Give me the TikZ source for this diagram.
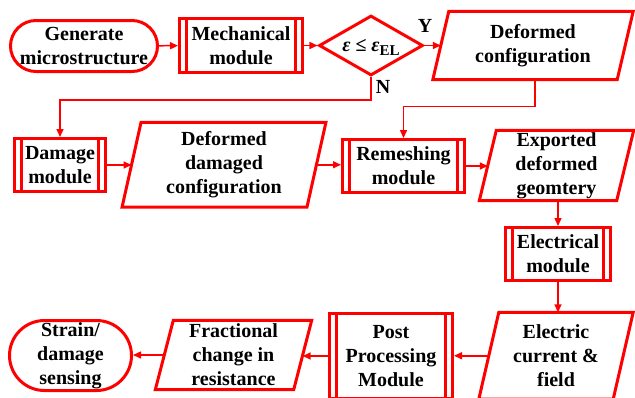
\documentclass[tikz,border=0pt]{standalone}
\usepackage{fontspec}
\setmainfont{Liberation Serif}
\usetikzlibrary{shapes.geometric,shapes.misc,arrows.meta}
\definecolor{flowred}{RGB}{255,0,0}

\begin{document}
\begin{tikzpicture}[x=1pt,y=-1pt,
  every node/.style={font=\fontsize{20}{24}\selectfont\bfseries, align=center, inner sep=0pt},
  shape line/.style={draw=flowred, line width=3pt},
  terminal/.style={shape line, rounded rectangle},
  module/.style={shape line, rectangle,
    path picture={\draw[flowred, line width=2.5pt]
      ([xshift=7pt]path picture bounding box.north west) -- ([xshift=7pt]path picture bounding box.south west)
      ([xshift=-7pt]path picture bounding box.north east) -- ([xshift=-7pt]path picture bounding box.south east);}},
  decision/.style={shape line, diamond},
  data/.style={rectangle},
  link/.style={draw=flowred, line width=1.5pt, -{Triangle[length=8pt,width=7pt]}},
]
\clip (0,0) rectangle (635,397);

% first row
\node[terminal, minimum width=147, minimum height=51] (gen) at (84,46) {Generate\\microstructure};
\node[module, minimum width=123, minimum height=54] (mech) at (241,45.5) {Mechanical\\module};
\node[decision, minimum width=104, minimum height=60] (dec) at (371,45.5) {};
\node at (371,47) {{\itshape ε} ≤ {\itshape ε}\raisebox{-4pt}{\fontsize{15}{15}\selectfont EL}};
\node at (425,26) {Y};
\node at (383,87) {N};
\node[data, minimum width=184, minimum height=68] (defc) at (533,45.5) {Deformed\\configuration};

% second row
\node[module, minimum width=91, minimum height=53] (dmg) at (60,165) {Damage\\module};
\node[data, minimum width=184.5, minimum height=84.5] (ddc) at (224,164.75) {Deformed\\damaged\\configuration};
\node[module, minimum width=122, minimum height=53] (rem) at (403.5,166) {Remeshing\\module};
\node[data, minimum width=137, minimum height=70] (exp) at (556.5,165.5) {Exported\\deformed\\geomtery};

% electrical solver
\node[module, minimum width=105, minimum height=53] (ele) at (558,254) {Electrical\\module};

% last row
\node[data, minimum width=134, minimum height=86.5] (cur) at (556,355.75) {Electric\\current \&\\field};
\node[module, minimum width=123, minimum height=85] (post) at (391,356) {Post\\Processing\\Module};
\node[data, minimum width=138, minimum height=69] (frac) at (233.5,355) {Fractional\\change in\\resistance};
\node[terminal, minimum width=122, minimum height=70] (sens) at (70.5,355.5) {Strain/\\damage\\sensing};

% input/output parallelograms
\foreach \n/\s in {defc/8, ddc/9.5, exp/8.5, cur/10, frac/9}
  \draw[shape line] ([xshift=\s pt]\n.north west) -- ([xshift=\s pt]\n.north east)
    -- ([xshift=-\s pt]\n.south east) -- ([xshift=-\s pt]\n.south west) -- cycle;

% connectors
\draw[link] (gen) -- (mech);
\draw[link] (mech) -- (dec);
\draw[link] (dec.east) -- (dec.east -| defc.west);
\draw[link] (dec.south) -- ++(0,23) -| (dmg.north);
\draw[link] (defc.south -| 535,0) -- ++(0,27) -| (rem.north);
\draw[link] (dmg.east) -- (dmg.east -| ddc.west);
\draw[link] (ddc.east) -- (ddc.east -| rem.west);
\draw[link] (rem.east) -- (rem.east -| exp.west);
\draw[link] (exp.south -| ele.north) -- (ele.north);
\draw[link] (ele.south) -- (ele.south |- cur.north);
\draw[link] (cur.west) -- (cur.west -| post.east);
\draw[link] (post.west) -- (post.west -| frac.east);
\draw[link] (frac.west) -- (frac.west -| sens.east);
\end{tikzpicture}
\end{document}
